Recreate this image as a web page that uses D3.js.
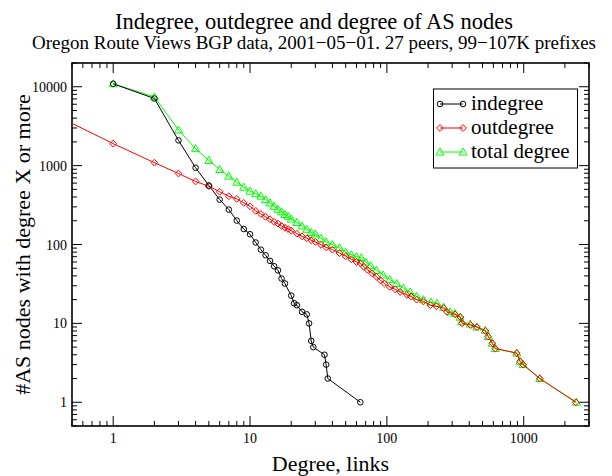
<!DOCTYPE html>
<html><head><meta charset="utf-8">
<script src="https://cdn.jsdelivr.net/npm/d3@7"></script>
<style>body{margin:0;background:#fff}svg{display:block}</style>
</head><body><div id="chart"></div>
<script>
const titleText = "Indegree, outdegree and degree of AS nodes";
const subtitleText = "Oregon Route Views BGP data, 2001\u221205\u221201. 27 peers, 99\u2212107K prefixes";
const xLabel = "Degree, links";
const yLabel = "#AS nodes with degree X or more";
const seriesNames = ["indegree", "outdegree", "total degree"];
const xTickValues = [1, 10, 100, 1000];
const yTickValues = [1, 10, 100, 1000, 10000];

const inDeg = [1,2,3,4,5,6,7,8,9,10,11,12,13,14,15,16,17,18,20,21,22,24,26,27,28,29,35,36,37,64];
const inCount = [10900,7100,2090,940,560,371,277,201,157,135,106,86,73,62,53,47,37,32,22.5,18,17,14,13,10,6,5,4,3,2,1];

const outDeg = [0.5,1,2,3,4,5,6,7,8,9,10,11,12,13,14,15,16,17,18,19,20,22,24,26,28,30,33,36,40,45,50,55,60,64,68,72,78,84,90,96,105,115,125,140,150,165,185,208,230,260,275,315,345,355,410,455,525,550,590,620,890,940,990,1310,2400];
const outCount = [3440,1900,1090,795,630,548,466,409,379,337,305,267,244,224,209,193,184,172,163,157,150,137,127,120,113,108,99,92,86,78,71,65,60,58,52,48,43,39,35,32,29,27,25,23,22,20,19,17,16.5,15.6,14,13,12,10,9.5,9,8,6.8,5.6,4.8,4.2,3.3,3,2,1];

const totDeg = [1,2,3,4,5,6,7,8,9,10,11,12,13,14,15,16,17,18,19,20,22,24,26,28,30,33,36,40,45,50,55,60,65,70,76,84,94,105,118,132,148,165,185,210,232,260,290,314,343,352,406,455,524,552,588,620,890,940,990,1310,2430];
const totCount = [10900,7440,2830,1640,1165,893,735,617,533,475,440,410,371,337,305,280,260,240,228,210,190,172,156,142,136,120,108,100,91,80,74,70,68,60,54,47,41,36,32,28,25,22,20,18.5,18,16,14,13.4,12,10.5,9.8,9,8.2,6.8,5.6,4.8,4.2,3.3,3,2,1];

const W = 612, H = 476;
const FONT = "'Liberation Serif', 'Times New Roman', 'DejaVu Serif', serif";
const M = {left: 72, right: 589, top: 63, bottom: 426};
const svg = d3.select("#chart").append("svg").attr("width", W).attr("height", H).attr("font-family", FONT);
const x = d3.scaleLog().domain([0.5, 3000]).range([M.left, M.right]);
const y = d3.scaleLog().domain([0.5, 20000]).range([M.bottom, M.top]);

svg.append("defs").append("clipPath").attr("id","clip").append("rect")
  .attr("x", M.left).attr("y", M.top).attr("width", M.right-M.left).attr("height", M.bottom-M.top);

function minors(dom){const r=[];for(let e=-1;e<=5;e++){for(let k=2;k<=9;k++){const v=k*Math.pow(10,e);if(v>=dom[0]&&v<=dom[1])r.push(v);}}return r;}
const xMinor = minors(x.domain()), yMinor = minors(y.domain());
const tickG = svg.append("g").attr("stroke","#000").attr("stroke-width",1);
xMinor.forEach(v=>{tickG.append("line").attr("x1",x(v)).attr("x2",x(v)).attr("y1",M.bottom).attr("y2",M.bottom-5);
  tickG.append("line").attr("x1",x(v)).attr("x2",x(v)).attr("y1",M.top).attr("y2",M.top+5);});
xTickValues.forEach(v=>{tickG.append("line").attr("x1",x(v)).attr("x2",x(v)).attr("y1",M.bottom).attr("y2",M.bottom-10);
  tickG.append("line").attr("x1",x(v)).attr("x2",x(v)).attr("y1",M.top).attr("y2",M.top+10);});
yMinor.forEach(v=>{tickG.append("line").attr("y1",y(v)).attr("y2",y(v)).attr("x1",M.left).attr("x2",M.left+5);
  tickG.append("line").attr("y1",y(v)).attr("y2",y(v)).attr("x1",M.right).attr("x2",M.right-5);});
yTickValues.forEach(v=>{tickG.append("line").attr("y1",y(v)).attr("y2",y(v)).attr("x1",M.left).attr("x2",M.left+10);
  tickG.append("line").attr("y1",y(v)).attr("y2",y(v)).attr("x1",M.right).attr("x2",M.right-10);});

svg.append("rect").attr("x",M.left).attr("y",M.top).attr("width",M.right-M.left).attr("height",M.bottom-M.top)
  .attr("fill","none").attr("stroke","#000").attr("stroke-width",1.6);

const fmt = d3.format("d");
svg.append("g").selectAll("text").data(xTickValues).join("text")
  .attr("x",d=>x(d)).attr("y",M.bottom+17).attr("text-anchor","middle").attr("font-size",14).attr("font-family",FONT).text(d=>fmt(d));
svg.append("g").selectAll("text").data(yTickValues).join("text")
  .attr("x",M.left-5).attr("y",d=>y(d)+5).attr("text-anchor","end").attr("font-size",14).attr("font-family",FONT).text(d=>fmt(d));

svg.append("text").attr("x",314).attr("y",29).attr("text-anchor","middle").attr("font-size",22.5).attr("font-family",FONT).text(titleText);
svg.append("text").attr("x",314).attr("y",49).attr("text-anchor","middle").attr("font-size",19).attr("font-family",FONT).text(subtitleText);
svg.append("text").attr("x",(M.left+M.right)/2).attr("y",471).attr("text-anchor","middle").attr("font-size",22).attr("font-family",FONT).text(xLabel);
svg.append("text").attr("transform",`translate(30,${(M.top+M.bottom)/2}) rotate(-90)`).attr("text-anchor","middle").attr("font-size",22).attr("font-family",FONT).text(yLabel);

const series = [
  {name: seriesNames[0], xs: inDeg, ys: inCount, color: "#000000", shape: "circle"},
  {name: seriesNames[1], xs: outDeg, ys: outCount, color: "#ff0000", shape: "diamond"},
  {name: seriesNames[2], xs: totDeg, ys: totCount, color: "#00ff00", shape: "triangle"}
];
function markerPath(shape, cx, cy){
  if(shape==="circle"){const r=2.8;return `M${cx-r},${cy}a${r},${r} 0 1,0 ${2*r},0a${r},${r} 0 1,0 ${-2*r},0Z`;}
  if(shape==="diamond"){const r=3.4;return `M${cx},${cy-r}L${cx+r},${cy}L${cx},${cy+r}L${cx-r},${cy}Z`;}
  const r=4;return `M${cx},${cy-r}L${cx+r},${cy+r*0.75}L${cx-r},${cy+r*0.75}Z`;
}
const plotG = svg.append("g").attr("clip-path","url(#clip)");
const line = d3.line().x(d=>x(d[0])).y(d=>y(d[1]));
[series[2], series[1], series[0]].forEach(s=>{
  const pts = s.xs.map((v,i)=>[v, s.ys[i]]);
  plotG.append("path").attr("d", line(pts)).attr("fill","none").attr("stroke",s.color).attr("stroke-width",1);
  plotG.append("g").selectAll("path").data(pts.filter(p=>p[0]>=1)).join("path")
    .attr("d",p=>markerPath(s.shape, x(p[0]), y(p[1])))
    .attr("fill","none").attr("stroke",s.color).attr("stroke-width",1);
});

const lg = svg.append("g");
lg.append("rect").attr("x",433.5).attr("y",89).attr("width",144).attr("height",79).attr("fill","#fff").attr("stroke","#000").attr("stroke-width",1);
series.forEach((s,i)=>{
  const yy = 104 + i*24;
  lg.append("line").attr("x1",440).attr("x2",463).attr("y1",yy).attr("y2",yy).attr("stroke",s.color).attr("stroke-width",1);
  [440,463].forEach(cx=>lg.append("path").attr("d",markerPath(s.shape,cx,yy)).attr("fill","none").attr("stroke",s.color));
  lg.append("text").attr("x",471).attr("y",yy+6).attr("font-size",21).attr("font-family",FONT).text(s.name);
});
</script></body></html>
